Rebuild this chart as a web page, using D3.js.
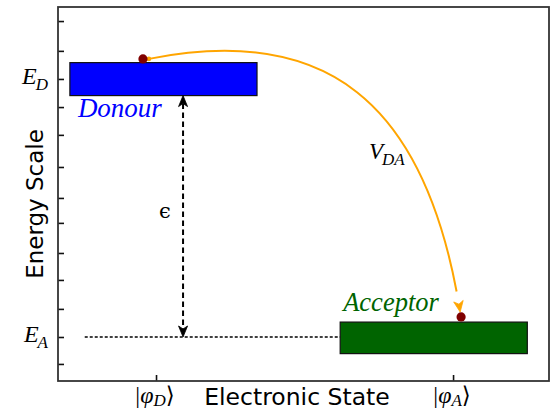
<!DOCTYPE html>
<html>
<head>
<meta charset="utf-8">
<script src="https://cdn.jsdelivr.net/npm/d3@7/dist/d3.min.js"></script>
<style>
  html, body { margin: 0; padding: 0; background: #fff; }
  svg { display: block; }
</style>
</head>
<body>
<script>
// ---- data -------------------------------------------------------------
// Electronic states on the horizontal axis
const stateTicks = [1, 2];
const stateSubs = ["D", "A"];

// Energy scale ticks (only the two levels carry labels)
const energyTicks = [-0.94, 0, 0.98, 1.99, 2.93, 3.98, 4.85, 5.93, 7.05, 8.02, 9, 9.98, 11.02];
const energyLabelValues = [9, 0];
const energyLabelSubs = ["D", "A"];

// Donour / acceptor levels (boxes)
const levelNames = ["Donour", "Acceptor"];
const levelX0 = [0.71, 1.62];
const levelX1 = [1.34, 2.25];
const levelLow = [8.42, -0.58];
const levelHigh = [9.57, 0.52];

// Electron positions on each level
const electronX = [0.956, 2.027];
const electronE = [9.70, 0.70];

// Coupling V_DA transfer curve (cubic Bezier control points)
const couplingX = [0.976, 1.603, 1.916, 2.024];
const couplingE = [9.70, 10.99, 7.85, 0.87];

// Energy gap arrow and acceptor reference line
const gapX = 1.091;
const gapEnds = [8.42, 0];
const refLineX = [0.76, 1.62];
const refLineE = 0;

// ---- layout -----------------------------------------------------------
const W = 558, H = 411;
const svg = d3.select("body").append("svg").attr("width", W).attr("height", H);
svg.append("rect").attr("width", W).attr("height", H).attr("fill", "#fff");

const x = d3.scaleLinear().domain([0.67, 2.323]).range([58, 549]);
const y = d3.scaleLinear().domain([-1.535, 11.51]).range([381, 7]);

const mathFont = "'Liberation Serif', 'DejaVu Serif', serif";
const sansFont = "'DejaVu Sans', sans-serif";
const levelColors = ["#0000ff", "#006400"];

// axes with inward ticks
const yAxis = svg.append("g").attr("transform", "translate(58,0)")
  .call(d3.axisLeft(y).tickValues(energyTicks).tickSize(-6).tickFormat(""));
const xAxis = svg.append("g").attr("transform", "translate(0,381)")
  .call(d3.axisBottom(x).tickValues(stateTicks).tickSize(-6).tickFormat(""));
[yAxis, xAxis].forEach(g => {
  g.select(".domain").remove();
  g.selectAll(".tick line").attr("stroke", "#111").attr("stroke-width", 1.6);
});

// frame
svg.append("rect")
  .attr("x", x.range()[0]).attr("y", y.range()[1])
  .attr("width", x.range()[1] - x.range()[0])
  .attr("height", y.range()[0] - y.range()[1])
  .attr("fill", "none").attr("stroke", "#333").attr("stroke-width", 1.8);

// energy tick labels E_D, E_A
energyLabelValues.forEach((v, i) => {
  const t = svg.append("text")
    .attr("x", 48).attr("y", y(v) + 5)
    .attr("text-anchor", "end")
    .attr("font-family", mathFont).attr("font-style", "italic")
    .attr("fill", "#000");
  t.append("tspan").attr("font-size", 24).text("E");
  t.append("tspan").attr("font-size", 17).attr("dy", 6).attr("dx", -1).text(energyLabelSubs[i]);
});

// state tick labels |φ_D⟩, |φ_A⟩
stateTicks.forEach((v, i) => {
  const t = svg.append("text")
    .attr("x", x(v) - 1).attr("y", 403)
    .attr("text-anchor", "middle")
    .attr("font-family", mathFont).attr("fill", "#000");
  t.append("tspan").attr("font-size", 24).text("|");
  t.append("tspan").attr("font-size", 24).attr("font-style", "italic").text("φ");
  t.append("tspan").attr("font-size", 17).attr("font-style", "italic").attr("dy", 3).text(stateSubs[i]);
  t.append("tspan").attr("font-size", 23).attr("dy", -3).attr("font-family", "'DejaVu Serif', serif").text("⟩");
});

// axis titles
svg.append("text")
  .attr("x", 297).attr("y", 405)
  .attr("text-anchor", "middle")
  .attr("font-family", sansFont).attr("font-size", 23.5)
  .text("Electronic State");
svg.append("text")
  .attr("transform", "translate(43,204) rotate(-90)")
  .attr("text-anchor", "middle")
  .attr("font-family", sansFont).attr("font-size", 23)
  .text("Energy Scale");

// acceptor reference line
svg.append("line")
  .attr("x1", x(refLineX[0])).attr("x2", x(refLineX[1]))
  .attr("y1", y(refLineE)).attr("y2", y(refLineE))
  .attr("stroke", "#000").attr("stroke-width", 1.3)
  .attr("stroke-dasharray", "3,2");

// level boxes
levelNames.forEach((name, i) => {
  svg.append("rect")
    .attr("x", x(levelX0[i])).attr("y", y(levelHigh[i]))
    .attr("width", x(levelX1[i]) - x(levelX0[i]))
    .attr("height", y(levelLow[i]) - y(levelHigh[i]))
    .attr("fill", levelColors[i]).attr("stroke", "#111").attr("stroke-width", 1.2);
});

// level names
svg.append("text")
  .attr("x", x(levelX0[0]) + 8).attr("y", y(levelLow[0]) + 21)
  .attr("font-family", mathFont).attr("font-style", "italic")
  .attr("font-size", 27).attr("fill", levelColors[0])
  .text(levelNames[0]);
svg.append("text")
  .attr("x", x(levelX0[1]) + 3).attr("y", y(levelHigh[1]) - 11)
  .attr("font-family", mathFont).attr("font-style", "italic")
  .attr("font-size", 26.5).attr("fill", levelColors[1])
  .text(levelNames[1]);

// arrowhead helper: tip point, unit direction of travel
function arrowHead(tip, dir, len, half, notch, color) {
  const [ux, uy] = dir, px = -uy, py = ux;
  const bx = tip[0] - ux * len, by = tip[1] - uy * len;
  const nx = tip[0] - ux * (len - notch), ny = tip[1] - uy * (len - notch);
  svg.append("path")
    .attr("d", `M${tip[0]},${tip[1]}L${bx + px * half},${by + py * half}L${nx},${ny}L${bx - px * half},${by - py * half}Z`)
    .attr("fill", color).attr("stroke", color).attr("stroke-width", 0.8)
    .attr("stroke-linejoin", "miter");
}

// energy gap double arrow (dashed)
const gx = x(gapX), gTop = y(gapEnds[0]), gBot = y(gapEnds[1]);
svg.append("line")
  .attr("x1", gx).attr("x2", gx)
  .attr("y1", gTop + 8).attr("y2", gBot - 8)
  .attr("stroke", "#000").attr("stroke-width", 2)
  .attr("stroke-dasharray", "5.5,3.5");
arrowHead([gx, gTop], [0, -1], 11, 4.5, 3, "#000");
arrowHead([gx, gBot], [0, 1], 11, 4.5, 3, "#000");

// epsilon label
svg.append("text")
  .attr("x", gx - 24).attr("y", (gTop + gBot) / 2 + 2)
  .attr("font-family", "'DejaVu Serif', serif")
  .attr("font-size", 21).text("ϵ");

// coupling curve, split so the arrowhead closes it
const P = couplingX.map((v, i) => [x(v), y(couplingE[i])]);
function lerp(a, b, t) { return [a[0] + (b[0] - a[0]) * t, a[1] + (b[1] - a[1]) * t]; }
function splitFirst(p, t) {
  const a = lerp(p[0], p[1], t), b = lerp(p[1], p[2], t), c = lerp(p[2], p[3], t);
  const d = lerp(a, b, t), e = lerp(b, c, t), f = lerp(d, e, t);
  return [p[0], a, d, f];
}
const cut = splitFirst(P, 0.965);
const cpath = d3.path();
cpath.moveTo(cut[0][0], cut[0][1]);
cpath.bezierCurveTo(cut[1][0], cut[1][1], cut[2][0], cut[2][1], cut[3][0], cut[3][1]);
svg.append("path").attr("d", cpath.toString())
  .attr("fill", "none").attr("stroke", "#ffa500").attr("stroke-width", 2);
svg.append("circle").attr("cx", P[0][0]).attr("cy", P[0][1]).attr("r", 2.3).attr("fill", "#ffa500");
const tdx = P[3][0] - P[2][0], tdy = P[3][1] - P[2][1], tl = Math.hypot(tdx, tdy);
arrowHead(P[3], [tdx / tl, tdy / tl], 11, 4.8, 3, "#ffa500");

// V_DA label
const vLab = svg.append("text")
  .attr("x", 369).attr("y", 159)
  .attr("font-family", mathFont).attr("font-style", "italic").attr("fill", "#000");
vLab.append("tspan").attr("font-size", 23).text("V");
vLab.append("tspan").attr("font-size", 17).attr("dy", 6).attr("dx", -1).text("DA");

// electrons
electronX.forEach((v, i) => {
  svg.append("circle")
    .attr("cx", x(v)).attr("cy", y(electronE[i])).attr("r", 4.6)
    .attr("fill", "#800000");
});
</script>
</body>
</html>
